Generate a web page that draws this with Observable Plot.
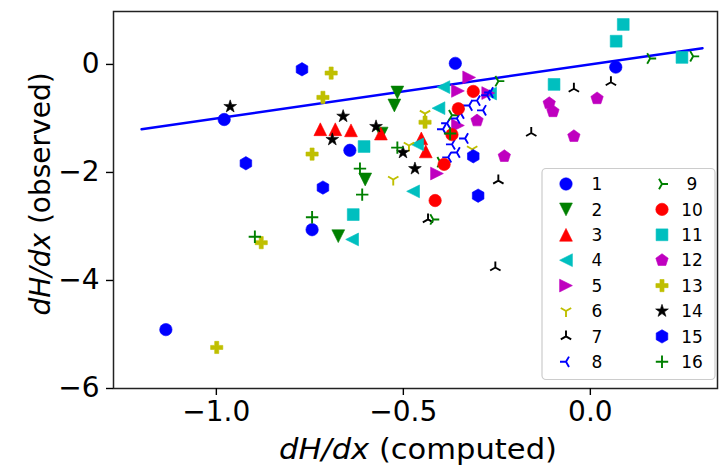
<!DOCTYPE html>
<html><head><meta charset="utf-8">
<script src="https://cdn.jsdelivr.net/npm/d3@7"></script>
<script src="https://cdn.jsdelivr.net/npm/@observablehq/plot@0.6"></script>
<style>body{margin:0;background:#fff}#chart{width:719px;height:468px}</style>
</head><body><div id="chart"></div>
<script>
// ---- data ----
const seriesLabels = ["1","2","3","4","5","6","7","8","9","10","11","12","13","14","15","16"];
const xTicks = [-1.0, -0.5, 0.0];
const yTicks = [-6, -4, -2, 0];
const refLineX = [-1.2, 0.3];
const refLineY = [-1.2, 0.3];
const s1 = [[-0.361,0.02],[-0.979,-1.02],[-0.643,-1.59],[-0.744,-3.06],[-1.135,-4.91],[0.068,-0.05]];
const s2 = [[-0.516,-0.52],[-0.524,-0.76],[-0.558,-1.28],[-0.602,-2.13],[-0.674,-3.18]];
const s3 = [[-0.722,-1.20],[-0.682,-1.20],[-0.640,-1.22],[-0.560,-1.28],[-0.452,-1.37],[-0.440,-1.61]];
const s4 = [[-0.393,-0.42],[-0.406,-0.81],[-0.463,-1.48],[-0.474,-2.35],[-0.637,-3.24],[-0.268,-0.54]];
const s5 = [[-0.324,-0.24],[-0.354,-0.49],[-0.354,-1.13],[-0.410,-2.02],[-0.273,-0.53]];
const s6 = [[-0.485,-1.50],[-0.527,-2.13],[-0.442,-0.91],[-0.316,-1.57]];
const s7 = [[-0.044,-0.45],[0.055,-0.33],[-0.158,-1.27],[-0.246,-2.15],[-0.254,-3.76],[-0.434,-2.87]];
const s8 = [[-0.276,-0.57],[-0.303,-0.67],[-0.324,-0.76],[-0.287,-0.85],[-0.346,-0.91],[-0.357,-1.00],[-0.383,-1.09],[-0.394,-1.20],[-0.335,-1.37],[-0.370,-1.48],[-0.357,-1.63],[-0.380,-1.72],[-0.268,-0.52]];
const s9 = [[0.160,0.11],[0.275,0.15],[-0.246,-0.31],[-0.420,-2.87],[-0.370,-0.94],[-0.401,-1.81]];
const s10 = [[-0.313,-0.50],[-0.353,-0.82],[-0.370,-1.30],[-0.391,-1.85],[-0.415,-2.52]];
const s11 = [[0.088,0.74],[0.069,0.43],[0.245,0.13],[-0.097,-0.37],[-0.605,-1.52],[-0.634,-2.78]];
const s12 = [[-0.110,-0.72],[-0.100,-0.87],[0.018,-0.63],[-0.044,-1.33],[-0.303,-1.04],[-0.230,-1.70]];
const s13 = [[-0.693,-0.16],[-0.715,-0.61],[-0.744,-1.66],[-0.880,-3.30],[-0.999,-5.24],[-0.442,-1.07]];
const s14 = [[-0.963,-0.78],[-0.661,-0.96],[-0.690,-1.39],[-0.573,-1.15],[-0.501,-1.63],[-0.469,-1.93]];
const s15 = [[-0.771,-0.09],[-0.921,-1.83],[-0.715,-2.28],[-0.313,-1.70],[-0.300,-2.43]];
const s16 = [[-0.516,-1.54],[-0.616,-1.93],[-0.610,-2.41],[-0.897,-3.19],[-0.744,-2.83],[-0.375,-1.28]];
const allSeries = [s1,s2,s3,s4,s5,s6,s7,s8,s9,s10,s11,s12,s13,s14,s15,s16];

// ---- styles ----
const seriesColors = ["#0000ff","#008000","#ff0000","#00bfbf","#bf00bf","#bfbf00","#000000","#0000ff",
                      "#008000","#ff0000","#00bfbf","#bf00bf","#bfbf00","#000000","#0000ff","#008000"];
function polySym(pts){return {draw(ctx,size){const R=Math.sqrt(size/Math.PI);pts.forEach(([a,b],i)=>i?ctx.lineTo(a*R,b*R):ctx.moveTo(a*R,b*R));ctx.closePath();}};}
function rayPoly(n, start, inner){const pts=[];const m=inner?2*n:n;for(let k=0;k<m;k++){const a=start+k*2*Math.PI/m;const rr=(inner&&k%2)?inner:1;pts.push([rr*Math.cos(a),rr*Math.sin(a)]);}return polySym(pts);}
function triSym(angs){return {draw(ctx,size){const R=Math.sqrt(size/Math.PI);for(const a of angs){ctx.moveTo(0,0);ctx.lineTo(R*Math.cos(a),R*Math.sin(a));}}};}
const circleSym = {draw(ctx,size){const R=Math.sqrt(size/Math.PI);ctx.moveTo(R,0);ctx.arc(0,0,R,0,2*Math.PI);}};
const plusSym = {draw(ctx,size){const R=Math.sqrt(size/Math.PI);ctx.moveTo(-R,0);ctx.lineTo(R,0);ctx.moveTo(0,-R);ctx.lineTo(0,R);}};
const t = 1/3;
const shapes = [
  circleSym,
  polySym([[0,1],[-1,-1],[1,-1]]),
  polySym([[0,-1],[-1,1],[1,1]]),
  polySym([[-1,0],[1,-1],[1,1]]),
  polySym([[1,0],[-1,-1],[-1,1]]),
  triSym([Math.PI/2,-Math.PI/6,-5*Math.PI/6]),
  triSym([-Math.PI/2,Math.PI/6,5*Math.PI/6]),
  triSym([Math.PI,-Math.PI/3,Math.PI/3]),
  triSym([0,2*Math.PI/3,-2*Math.PI/3]),
  circleSym,
  polySym([[-1,-1],[1,-1],[1,1],[-1,1]]),
  rayPoly(5,-Math.PI/2),
  polySym([[-t,-1],[t,-1],[t,-t],[1,-t],[1,t],[t,t],[t,1],[-t,1],[-t,t],[-1,t],[-1,-t],[-t,-t]]),
  rayPoly(5,-Math.PI/2,0.39),
  rayPoly(6,-Math.PI/2),
  plusSym
];
const radii = [6.2,6.4,6.4,6.4,6.4,6,6,6,6,6.2,5.9,6.5,6.1,6.7,6.7,6.2];
const stroked = [false,false,false,false,false,true,true,true,true,false,false,false,false,false,false,true];

const rows = allSeries.flatMap((pts,i)=>pts.map(([x,y])=>({series:seriesLabels[i],x,y})));
const lineRows = refLineX.map((x,i)=>({x,y:refLineY[i]}));

const dotMarks = seriesLabels.map((lab,i)=>Plot.dot(rows,{
  filter:d=>d.series===lab, x:"x", y:"y", symbol:shapes[i], r:radii[i],
  fill: stroked[i] ? "none" : seriesColors[i],
  stroke: seriesColors[i], strokeWidth: stroked[i] ? 1.9 : 0.6
}));

const chart = Plot.plot({
  width:719, height:468,
  marginLeft:113, marginRight:2, marginTop:11, marginBottom:80,
  style:{fontFamily:"DejaVu Sans", fontSize:"28px", background:"white", color:"black"},
  x:{domain:[-1.275,0.34]},
  y:{domain:[-6,0.98]},
  marks:[
    Plot.line(lineRows,{x:"x",y:"y",stroke:"#0000ff",strokeWidth:2.4}),
    ...dotMarks,
    Plot.frame({stroke:"#222",strokeWidth:1.5}),
    Plot.axisX(xTicks,{tickSize:7,tickPadding:6,tickFormat:d3.format(".1f"),label:null,strokeWidth:1.4}),
    Plot.axisY(yTicks,{tickSize:7,tickPadding:7,tickFormat:d3.format("d"),label:null,strokeWidth:1.4})
  ]
});
document.getElementById("chart").appendChild(chart);

// axis titles & legend
const svg = d3.select(chart);
const xl = svg.append("text").attr("x",418).attr("y",459).attr("text-anchor","middle")
  .attr("textLength",278).attr("lengthAdjust","spacingAndGlyphs")
  .style("font-size","28px").style("white-space","pre");
xl.append("tspan").attr("font-style","italic").text("dH/dx");
xl.append("tspan").text(" (computed)");
const yl = svg.append("text").attr("transform","translate(50,194) rotate(-90)").attr("text-anchor","middle")
  .style("font-size","28px").style("white-space","pre");
yl.append("tspan").attr("font-style","italic").text("dH/dx");
yl.append("tspan").text(" (observed)");

const lg = svg.append("g");
lg.append("rect").attr("x",542).attr("y",168.5).attr("width",173).attr("height",211).attr("rx",4)
  .attr("fill","white").attr("fill-opacity",0.85).attr("stroke","#cccccc").attr("stroke-width",1.2);
seriesLabels.forEach((lab,i)=>{
  const col = i<8?0:1, row = i%8;
  const mx = col? 662 : 566, ty = 184 + row*25.4;
  lg.append("path").attr("transform",`translate(${mx},${ty})`)
    .attr("d", d3.symbol(shapes[i], Math.PI*radii[i]*radii[i])())
    .attr("fill", stroked[i] ? "none" : seriesColors[i])
    .attr("stroke", seriesColors[i]).attr("stroke-width", stroked[i] ? 1.9 : 0.6);
  lg.append("text").attr("x", col? 692 : 597).attr("y", ty).attr("dy","0.36em")
    .style("font-size","17px").text(lab);
});
</script>
</body></html>
